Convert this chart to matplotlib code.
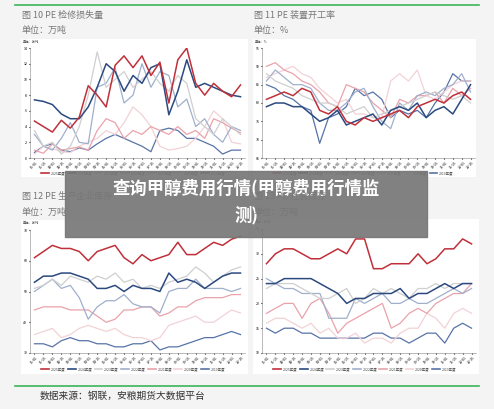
import matplotlib
matplotlib.use("Agg")
import matplotlib.pyplot as plt
from matplotlib.patches import Rectangle

plt.rcParams['font.family'] = ['Noto Sans CJK SC', 'DejaVu Sans']

series_names = ["2025年度", "2024年度", "2023年度", "2022年度", "2021年度", "2020年度", "2019年度"]
colors = ["#c0303a", "#2b4a80", "#cfcfcf", "#9fb0cc", "#eaa2ab", "#f2d2d6", "#5873a8"]
widths = [1.1, 1.1, 0.9, 0.9, 0.9, 0.9, 0.9]
xlabels = ["01-01","01-15","02-01","02-15","03-01","03-15","04-01","04-15","05-01","05-15","06-01","06-15",
           "07-01","07-15","08-01","08-15","09-01","09-15","10-01","10-15","11-01","11-15","12-01","12-15"]

c1 = [
 [4.7,4.0,3.3,4.8,3.8,5.2,9.2,8.0,6.5,11.8,13.0,11.5,13.0,10.5,12.2,7.0,12.5,14.0,9.5,8.0,9.5,8.5,7.8,9.3],
 [7.4,7.2,6.8,5.6,5.0,5.0,6.5,9.0,12.0,11.0,8.5,10.5,9.5,11.5,12.0,5.5,8.5,12.5,9.0,9.5,9.0,8.5,8.0,7.8],
 [3.5,1.5,2.0,0.5,1.5,4.0,8.0,13.5,9.0,10.0,11.0,9.0,10.0,11.0,9.5,8.5,10.5,9.5,5.0,4.0,3.0,5.0,4.0,3.0],
 [3.0,1.5,1.0,2.5,4.5,2.0,1.8,9.0,9.5,11.5,7.0,8.0,12.0,9.0,11.0,10.5,6.5,7.5,4.0,5.0,3.0,2.0,4.0,3.5],
 [1.0,0.6,1.8,1.0,1.2,1.4,1.0,3.5,5.0,4.5,2.5,3.5,3.0,4.0,3.5,3.0,4.0,3.0,3.5,2.5,5.0,4.5,3.8,3.2],
 [0.5,1.5,1.2,0.8,0.7,1.5,2.0,2.5,3.5,3.0,4.5,6.5,5.5,4.0,1.5,1.0,1.2,1.5,2.5,4.0,6.0,5.0,2.0,1.8],
 [0.7,1.5,1.8,1.0,0.8,1.3,1.0,1.8,2.5,3.0,2.5,2.0,1.5,0.8,3.5,3.8,3.5,2.5,2.5,2.0,1.5,0.5,1.0,1.0],
]
c2 = [
 [81,82,83,82,84,83,78,77,79,75,74,76,75,76,77,78,76,79,80,81,80,82,83,81],
 [79,80,80,79,79,77,75,76,78,74,75,76,77,74,78,79,78,80,76,78,79,77,81,85],
 [88,86,85,84,82,81,80,80,79,77,78,79,76,77,78,79,80,81,82,83,82,81,82,80],
 [86,89,87,85,85,84,80,78,78,80,83,84,79,75,73,80,78,82,83,82,84,85,88,83],
 [90,91,89,88,86,85,83,80,79,85,84,83,80,78,76,81,80,82,82,83,80,84,82,84],
 [87,88,89,90,88,87,84,82,80,81,77,77,76,76,86,88,86,89,82,81,83,85,86,86],
 [85,84,82,81,79,78,69,76,77,79,84,82,83,81,76,78,77,78,76,80,83,88,86,86],
]
c3 = [
 [61,63,65,64,64,63,60,63,64,65,61,59,62,60,61,62,66,62,62,64,66,65,67,68],
 [53,55,55,56,56,55,54,51,51,52,50,52,51,51,50,56,53,54,53,51,53,55,56,56],
 [51,52,54,52,55,54,53,55,54,56,53,54,51,52,51,53,54,55,58,56,53,55,57,58],
 [50,52,54,51,52,48,41,45,47,47,49,46,45,45,43,50,51,51,54,51,51,51,50,51],
 [44,45,45,45,44,44,44,42,40,41,44,44,45,45,42,43,45,45,47,48,48,48,49,49],
 [36,37,38,35,36,38,39,38,37,38,36,35,35,34,35,39,40,41,42,40,40,42,44,43],
 [33,33,32,34,35,34,34,33,33,32,32,33,33,34,31,32,32,33,34,35,35,36,37,36],
]
c4 = [
 [28,30,31,31,30,29,29,30,31,30,33,33,27,27,28,28,28,30,28,29,31,31,33,32],
 [24,24,25,25,25,25,24,23,22,20,21,21,22,22,22,23,21,22,22,23,24,23,24,24],
 [23,24,24,24,23,22,21,21,22,23,20,21,23,22,23,22,21,23,23,24,23,24,24,24],
 [25,24,23,23,22,22,22,17,17,17,21,20,21,22,20,20,21,20,20,21,22,23,22,23],
 [18,19,20,20,17,20,21,18,14,16,17,18,19,20,15,16,18,19,18,20,21,22,22,24],
 [16,17,17,16,15,16,14,15,13,13,14,12,13,13,12,14,15,15,18,17,15,18,19,18],
 [15,14,15,15,14,14,13,13,13,13,13,13,14,14,13,13,12,13,14,14,12,15,16,15],
]

W, H = 494, 409
fig = plt.figure(figsize=(W/100, H/100), dpi=100)
fig.patch.set_facecolor("#f4f4f4")

def box(x0, y0, x1, y1):
    return [x0/W, 1-y1/H, (x1-x0)/W, (y1-y0)/H]

def panel(outer, inner, data, ylim, yticks, unit):
    bg = fig.add_axes(box(*outer))
    bg.set_facecolor("white"); bg.set_xticks([]); bg.set_yticks([])
    for s in bg.spines.values(): s.set_visible(False)
    bg.set_xlim(0, 1); bg.set_ylim(0, 1)
    bg.text(0.01, 0.995, unit, fontsize=2.3, color="#444", va="top")
    n = len(series_names)
    for i in range(n):
        x0 = 0.09 + i * 0.117
        bg.plot([x0, x0 + 0.035], [0.03, 0.03], color=colors[i], lw=1.2)
        bg.text(x0 + 0.043, 0.03, series_names[i], fontsize=2.5, color="#444", va="center")
    ax = fig.add_axes(box(*inner))
    for i in range(len(data)-1, -1, -1):
        ax.plot(range(len(data[i])), data[i], color=colors[i], lw=widths[i])
    ax.set_xlim(-0.5, len(xlabels)-0.5)
    ax.set_ylim(*ylim); ax.set_yticks(yticks)
    ax.set_xticks(range(len(xlabels)))
    ax.set_xticklabels(xlabels, rotation=45, fontsize=2.5)
    ax.tick_params(axis='y', labelsize=2.5, length=1, pad=1)
    ax.tick_params(axis='x', length=1, pad=1)
    for s in ["top", "right"]: ax.spines[s].set_visible(False)
    for s in ["left", "bottom"]:
        ax.spines[s].set_linewidth(0.4); ax.spines[s].set_color("#888")

panel((21,39,248,177), (30,48,245,158), c1, (0,14), range(0,15,2), "单位：万吨")
panel((253,39,476,177), (262,48,475,158), c2, (65,95), range(65,96,5), "单位：%")
panel((21,220,248,374), (30,230,245,353), c3, (30,70), range(30,71,10), "单位：万吨")
panel((253,219,479,374), (262,229,476,353), c4, (10,35), range(10,36,5), "单位：万吨")

tc = "#777"
fig.text(22/W, 1-15/H, "图 10 PE 检修损失量", fontsize=6.5, color=tc, va="center")
fig.text(22/W, 1-30/H, "单位：万吨", fontsize=6.5, color=tc, va="center")
fig.text(254/W, 1-15/H, "图 11 PE 装置开工率", fontsize=6.5, color=tc, va="center")
fig.text(254/W, 1-30/H, "单位：%", fontsize=6.5, color=tc, va="center")
fig.text(22/W, 1-196/H, "图 12 PE 生产企业库存", fontsize=6.5, color=tc, va="center")
fig.text(22/W, 1-212/H, "单位：万吨", fontsize=6.5, color=tc, va="center")
fig.text(254/W, 1-196/H, "图 13 PE 社会库存", fontsize=6.5, color=tc, va="center")
fig.text(254/W, 1-212/H, "单位：万吨", fontsize=6.5, color=tc, va="center")

ov = fig.add_axes([0, 0, 1, 1], facecolor="none")
ov.set_xlim(0, W); ov.set_ylim(H, 0); ov.axis("off")
ov.plot([15, 479], [5, 5], color="#3cb55a", lw=1.2)
ov.plot([15, 479], [386, 386], color="#3cb55a", lw=1.2)
ov.add_patch(Rectangle((65, 171), 362, 66, color="#777777", alpha=0.92))
ov.text(246, 188, "查询甲醇费用行情(甲醇费用行情监", fontsize=12.5, fontweight="bold",
        color="white", ha="center", va="center")
ov.text(246, 215, "测)", fontsize=12.5, fontweight="bold", color="white", ha="center", va="center")
ov.text(40, 396, "数据来源：钢联，安粮期货大数据平台", fontsize=7, color="#333", va="center")

fig.savefig("out.png", dpi=100, facecolor=fig.get_facecolor())
